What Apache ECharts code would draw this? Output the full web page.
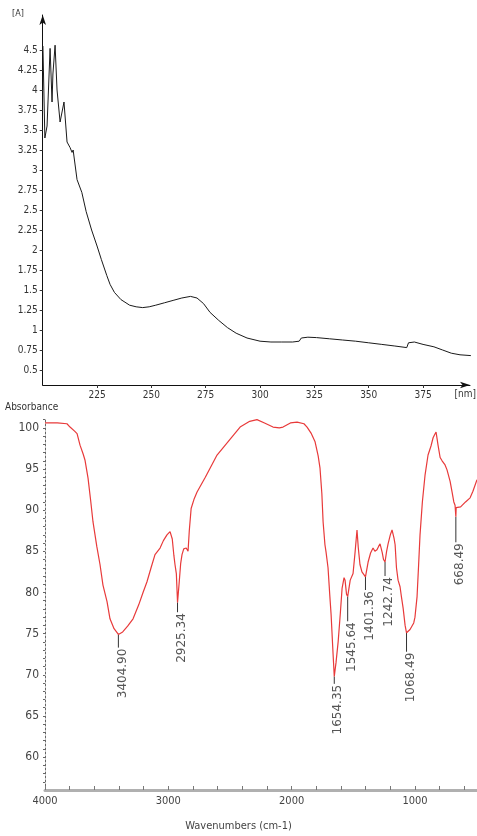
<!DOCTYPE html>
<html>
<head>
<meta charset="utf-8">
<script src="https://cdn.jsdelivr.net/npm/echarts@6/dist/echarts.min.js"></script>
<style>
html,body{margin:0;padding:0;background:#fff;}
#c{width:477px;height:836px;}
</style>
</head>
<body>
<div id="c"></div>
<script>
// ---------- UV-Vis spectrum (top) ----------
var uvWavelength = [200.1,201,202,203.4,204.3,204.7,205.7,206.6,208,208.9,209.8,211.2,212.6,213.5,214,215.8,218,219,220,222.5,225,227,229.5,231,233,236,240,243,246,249,252,256,260,264,268,271,274,277,281,285,289,294,300,305,310,315,318,319,322,326,332,338,344,350,356,362,367.5,368.3,371,375,380,384,388,392,397];
var uvAbsorbance = [4.55,3.4,3.55,4.52,3.85,4.2,4.56,4.0,3.6,3.6,3.85,3.35,3.28,3.22,3.25,2.88,2.72,2.6,2.48,2.25,2.05,1.88,1.68,1.57,1.47,1.38,1.31,1.29,1.28,1.29,1.31,1.34,1.37,1.40,1.42,1.40,1.33,1.22,1.12,1.03,0.96,0.90,0.86,0.85,0.85,0.85,0.86,0.90,0.91,0.905,0.89,0.875,0.86,0.84,0.82,0.80,0.78,0.84,0.85,0.82,0.79,0.75,0.71,0.69,0.68];
var uvYTicks = [0.5,0.75,1,1.25,1.5,1.75,2,2.25,2.5,2.75,3,3.25,3.5,3.75,4,4.25,4.5];
var uvXTicks = [225,250,275,300,325,350,375];

// ---------- FTIR spectrum (bottom) ----------
var irWavenumber = [4000,3900,3822,3797,3760,3740,3716,3690,3676,3651,3630,3611,3580,3554,3530,3497,3473,3440,3404.9,3370,3330,3286,3240,3205,3173,3140,3108,3067,3040,3011,2986,2968,2955,2946,2935,2925.34,2913,2900,2889,2875,2855,2840,2830,2815,2790,2767,2700,2605,2500,2418,2340,2281,2220,2151,2100,2070,2010,1956,1900,1875,1840,1810,1785,1770,1755,1745,1730,1721,1705,1690,1680,1664,1654.35,1640,1623,1605,1591,1575,1567,1555,1545.64,1525,1502,1485,1470,1460,1446,1430,1415,1401.36,1380,1360,1340,1325,1308,1295,1283,1265,1255,1242.74,1230,1218,1200,1186,1170,1161,1150,1137,1121,1110,1096,1080,1068.49,1055,1040,1024,1010,1000,983,970,959,940,918,894,870,853,840,829,820,813,796,780,756,740,732,715,699,685,675,670,668.49,666,650,630,618,590,553,530,497];
var irTransmittance = [100.6,100.6,100.5,100.1,99.6,99.3,97.9,96.8,96.1,93.9,91.2,88.6,85.6,83.4,80.9,78.9,76.8,75.6,74.9,75.2,75.9,76.8,78.5,80.0,81.3,83.0,84.6,85.4,86.3,87.0,87.4,86.5,84.5,83.4,82.3,78.8,81.0,83.5,84.6,85.3,85.4,85.0,87.5,90.2,91.4,92.2,94.0,96.7,98.6,100.1,100.8,101.0,100.6,100.1,100.0,100.1,100.6,100.7,100.5,100.1,99.3,98.3,96.6,95.1,92.0,88.6,85.8,84.9,83.0,79.5,77.3,72.5,69.8,71.5,74.0,77.5,80.5,81.8,81.5,79.8,79.5,81.5,82.3,85.0,87.6,85.5,83.4,82.5,82.3,81.9,83.7,84.8,85.4,85.0,85.2,85.6,85.9,84.8,84.0,83.7,85.0,85.9,87.0,87.6,86.6,85.8,83.0,81.5,80.7,79.5,78.1,76.0,75.1,75.3,75.5,75.7,76.3,77.0,79.5,83.5,87.0,91.0,94.3,96.7,97.8,98.8,99.2,99.5,98.6,97.9,96.4,96.0,95.5,94.9,94.7,93.5,92.2,91.0,90.6,90.4,89.2,90.3,90.3,90.4,90.5,91.0,91.5,92.3,93.7];
var irYTicks = [60,65,70,75,80,85,90,95,100];
var irXTicks = [4000,3000,2000,1000];
var irXMinorTicks = [4000,3800,3600,3400,3200,3000,2800,2600,2400,2200,2000,1800,1600,1400,1200,1000,800,600];
var irYMinorTicks = [57,58,59,60,61,62,63,64,65,66,67,68,69,70,71,72,73,74,75,76,77,78,79,80,81,82,83,84,85,86,87,88,89,90,91,92,93,94,95,96,97,98,99,100,101];
var peakWavenumber = [3404.90,2925.34,1654.35,1545.64,1401.36,1242.74,1068.49,668.49];
var peakValue = [74.9,78.8,69.8,79.5,81.9,83.7,75.1,89.2];
var peakLabelAt = [73.3,77.6,68.9,76.5,80.3,82.0,72.8,86.1];
var peakText = ['3404.90','2925.34','1654.35','1545.64','1401.36','1242.74','1068.49','668.49'];

var narrow = "'Liberation Sans Narrow','DejaVu Sans Condensed','Liberation Sans',sans-serif";

function zip(a,b){var r=[];for(var i=0;i<a.length;i++)r.push([a[i],b[i]]);return r;}
var peaks=[];for(var i=0;i<peakWavenumber.length;i++)peaks.push([peakWavenumber[i],peakValue[i],peakLabelAt[i],peakText[i]]);
function plain(v){return String(Math.round(v*100)/100);}

var chart = echarts.init(document.getElementById('c'), null, {renderer:'canvas'});
chart.setOption({
  backgroundColor:'#ffffff',
  animation:false,
  grid:[
    {left:42.7, right:7, top:15, bottom:451, containLabel:false},
    {left:45, right:0, top:418, bottom:46, containLabel:false}
  ],
  xAxis:[
    {gridIndex:0, type:'value', min:200, max:396.6,
     axisLine:{show:true, lineStyle:{color:'#111', width:1}, symbol:['none','arrow'], symbolSize:[5,10]},
     axisTick:{show:true, inside:false, length:3, lineStyle:{color:'#333'}, customValues:uvXTicks},
     axisLabel:{show:true, margin:5, color:'#333', fontSize:10, fontFamily:narrow, customValues:uvXTicks, formatter:plain},
     splitLine:{show:false}},
    {gridIndex:1, type:'value', min:497, max:4000, inverse:true,
     axisLine:{show:true, onZero:false, lineStyle:{color:'#b0b0b0', width:3}},
     axisTick:{show:true, inside:true, length:4, lineStyle:{color:'#777', width:1}, customValues:irXMinorTicks},
     axisLabel:{show:true, margin:6, color:'#444', fontSize:11, fontFamily:narrow, customValues:irXTicks, formatter:plain},
     splitLine:{show:false}}
  ],
  yAxis:[
    {gridIndex:0, type:'value', min:0.3125, max:4.9375,
     axisLine:{show:true, onZero:false, lineStyle:{color:'#111', width:1}, symbol:['none','arrow'], symbolSize:[5,10]},
     axisTick:{show:true, inside:false, length:3, lineStyle:{color:'#333'}, customValues:uvYTicks},
     axisLabel:{show:true, margin:5, color:'#333', fontSize:10, fontFamily:narrow, customValues:uvYTicks, formatter:plain},
     splitLine:{show:false}},
    {gridIndex:1, type:'value', min:56, max:101.2,
     axisLine:{show:true, onZero:false, lineStyle:{color:'#666', width:1, type:[2,2]}},
     axisTick:{show:true, inside:false, length:2, lineStyle:{color:'#666'}, customValues:irYMinorTicks},
     axisLabel:{show:true, margin:6, color:'#444', fontSize:12, fontFamily:narrow, customValues:irYTicks, formatter:plain},
     splitLine:{show:false}}
  ],
  graphic:[
    {type:'text', left:12, top:9, style:{text:'[A]', fill:'#333', font:'9px '+narrow}},
    {type:'text', right:1, top:389, style:{text:'[nm]', fill:'#333', font:'10px '+narrow}},
    {type:'text', left:5, top:402, style:{text:'Absorbance', fill:'#333', font:'10px '+narrow}},
    {type:'text', left:'center', top:821, style:{text:'Wavenumbers (cm-1)', fill:'#444', font:'11px '+narrow}}
  ],
  series:[
    {type:'line', xAxisIndex:0, yAxisIndex:0, data:zip(uvWavelength,uvAbsorbance), showSymbol:false, symbol:'none',
     lineStyle:{color:'#1a1a1a', width:1}, smooth:false},
    {type:'line', xAxisIndex:1, yAxisIndex:1, data:zip(irWavenumber,irTransmittance), showSymbol:false, symbol:'none',
     lineStyle:{color:'#e83a3a', width:1.2}, smooth:false, clip:false},
    {type:'custom', xAxisIndex:1, yAxisIndex:1, data:peaks, clip:false,
     renderItem:function(params, api){
       var p = api.coord([api.value(0), api.value(1)]);
       var e = api.coord([api.value(0), api.value(2)]);
       var txt = peakText[params.dataIndex];
       return {type:'group', children:[
         {type:'line', shape:{x1:p[0], y1:p[1], x2:e[0], y2:e[1]}, style:{stroke:'#333', lineWidth:1}},
         {type:'text', x:e[0]+4, y:e[1]+1, rotation:Math.PI/2,
          style:{text:txt, fill:'#555', font:'12px "DejaVu Sans",sans-serif', align:'right', verticalAlign:'middle'}}
       ]};
     }}
  ]
});
</script>
</body>
</html>
